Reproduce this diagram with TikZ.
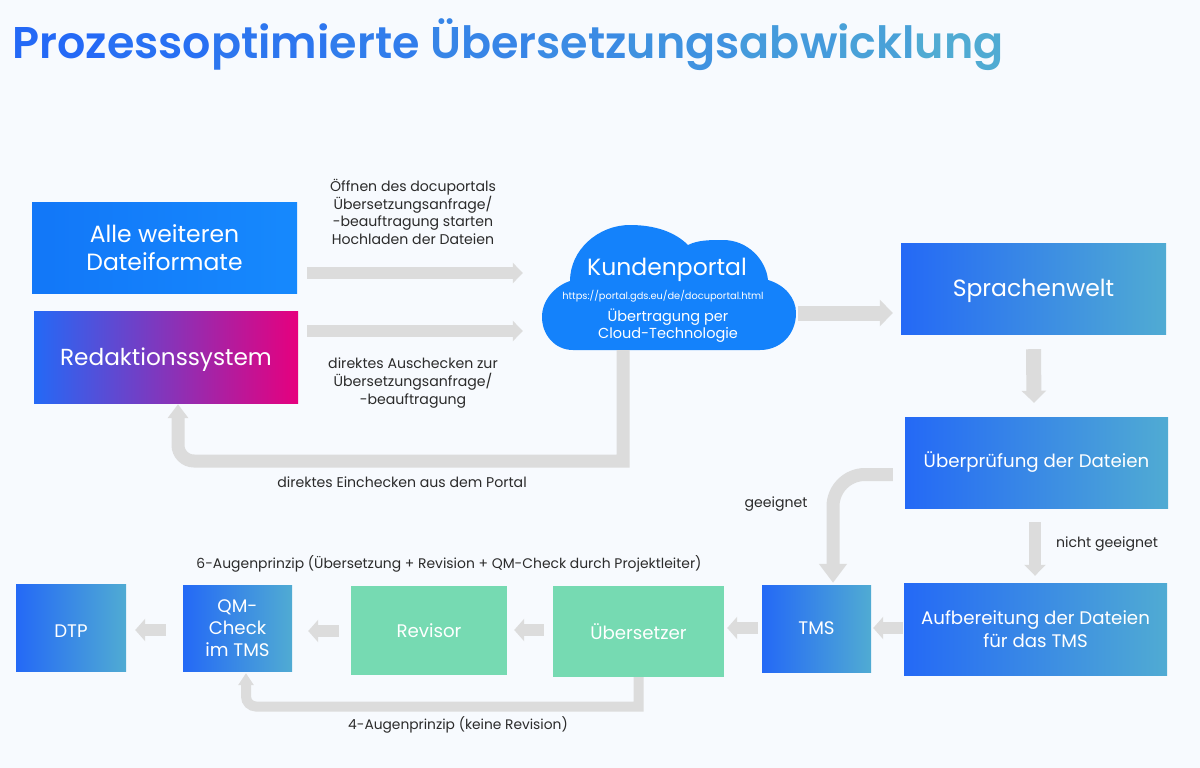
\documentclass[tikz,border=0pt]{standalone}
\usepackage{fontspec}
\setmainfont[BoldFont={Poppins SemiBold}]{Poppins}
\usetikzlibrary{arrows.meta}
\definecolor{pagebg}{HTML}{F7FAFE}
\definecolor{blueA}{HTML}{2469F6}
\definecolor{blueB}{HTML}{50ABD3}
\definecolor{skyA}{HTML}{1277F8}
\definecolor{skyB}{HTML}{1689FD}
\definecolor{magentaB}{HTML}{E6007E}
\definecolor{mint}{HTML}{76DAB2}
\definecolor{flowgray}{HTML}{DCDCDC}
\definecolor{labelink}{HTML}{2B2B2B}
\newcommand{\titlepart}[2]{\textcolor{blueB!#1!blueA}{#2}}
\newcommand{\fs}[1]{\fontsize{#1}{#1}\selectfont}
\tikzset{
  gradbox/.style={left color=blueA, right color=blueB, text=white, inner sep=0pt, align=center},
  mintbox/.style={fill=mint, text=white, inner sep=0pt, align=center},
  oneline/.style 2 args={text height=#1pt, text depth=#2pt},
  flowlabel/.style={text=labelink, align=center, inner sep=0pt, font=\fs{14.1}\linespread{1.25}\selectfont},
  flowarrow/.style n args={3}{draw=flowgray, line width=#1pt, -{Triangle[length=#2pt,width=#3pt,fill=flowgray]}}
}

\begin{document}
\begin{tikzpicture}[x=1pt, y=-1pt]
    \fill[pagebg] (0,0) rectangle (1200,768);
    \useasboundingbox (0,0) rectangle (1200,768);
    \node[inner sep=0pt, font=\fs{44.4}\bfseries] (heading) at (508,45)
      {\titlepart{0}{Proz}\titlepart{10}{esso}\titlepart{20}{ptimi}\titlepart{30}{erte }\titlepart{42}{Über}\titlepart{52}{setz}\titlepart{62}{ungs}\titlepart{75}{abw}\titlepart{85}{ickl}\titlepart{100}{ung}};
    % top left sources
    \node[left color=skyA, right color=skyB, text=white, inner sep=0pt, align=center, minimum width=265pt, minimum height=91pt, font=\fs{23.5}] (alle) at (164.5,247.5) {Alle weiteren\\[4pt]Dateiformate};
    \node[gradbox, oneline={21}{5}, right color=magentaB, minimum width=264pt, minimum height=92pt, font=\fs{23.2}] (redaktion) at (166,357) {Redaktionssystem};
    % cloud
    \fill[skyB!60!skyA] (573,350) .. controls (555,350) and (542,335) .. (542,317)
      .. controls (542,300) and (555,286) .. (570,281)
      .. controls (570,250) and (598,225) .. (630,225)
      .. controls (655,225) and (675,232) .. (688,245)
      .. controls (698,240) and (710,240) .. (723,240)
      .. controls (748,240) and (766,260) .. (768,280)
      .. controls (785,285) and (796,298) .. (796,313)
      .. controls (796,335) and (780,350) .. (760,350) -- cycle;
    \node[minimum width=254pt, minimum height=125pt, inner sep=0pt] (portal) at (669,287.5) {};
    \node[text=white, inner sep=0pt, font=\fs{23.5}] (kunden) at (667,270) {Kundenportal};
    \node[text=white, inner sep=0pt, font=\fs{9.8}] (url) at (663,296) {https://portal.gds.eu/de/docuportal.html};
    \node[text=white, inner sep=0pt, align=center, font=\fs{14.5}\linespread{1.15}\selectfont] (cloudtech) at (668,325.5) {Übertragung per\\Cloud-Technologie};
    % right column
    \node[gradbox, oneline={21}{5}, minimum width=265pt, minimum height=91pt, font=\fs{23.5}] (sprachen) at (1033.5,288.5) {Sprachenwelt};
    \node[gradbox, minimum width=263pt, minimum height=91pt, font=\fs{18.2}] (pruefung) at (1036.5,462.5) {Überprüfung der Dateien};
    \node[gradbox, minimum width=263pt, minimum height=92pt, font=\fs{18.2}] (aufbereitung) at (1035.5,629) {Aufbereitung der Dateien\\[3pt]für das TMS};
    % bottom row
    \node[gradbox, minimum width=109pt, minimum height=87pt, font=\fs{18.2}] (tms) at (816.5,628.5) {TMS};
    \node[mintbox, minimum width=171pt, minimum height=91pt, font=\fs{18.2}] (uebersetzer) at (638.5,631.5) {Übersetzer};
    \node[mintbox, minimum width=156pt, minimum height=89pt, font=\fs{18.2}] (revisor) at (429,630.5) {Revisor};
    \node[gradbox, minimum width=109pt, minimum height=86pt, font=\fs{18.2}] (qmcheck) at (237.5,628) {QM-\\[4pt]Check\\[4pt]im TMS};
    \node[gradbox, oneline={20}{0}, minimum width=110pt, minimum height=87pt, font=\fs{18.2}] (dtp) at (71,627.5) {DTP};
    % labels
    \node[flowlabel] (oeffnen) at (413,212) {Öffnen des docuportals\\Übersetzungsanfrage/\\-beauftragung starten\\Hochladen der Dateien};
    \node[flowlabel] (auschecken) at (413,383) {direktes Auschecken zur\\Übersetzungsanfrage/\\-beauftragung};
    \node[flowlabel] (einchecken) at (402,482) {direktes Einchecken aus dem Portal};
    \node[flowlabel] (geeignet) at (776,504) {geeignet};
    \node[flowlabel] (nichtgeeignet) at (1107,544) {nicht geeignet};
    \node[flowlabel, font=\fs{13.9}] (sechsaugen) at (449,564) {6-Augenprinzip (Übersetzung + Revision + QM-Check durch Projektleiter)};
    \node[flowlabel, font=\fs{13.8}] (vieraugen) at (458,725) {4-Augenprinzip (keine Revision)};
    % bend points of the long arrows
    \coordinate (checkindrop) at (623,461);
    \coordinate (checkinbend) at (178,461);
    \coordinate (tmsbend) at (833,474.5);
    \coordinate (fourdrop) at (638.5,706.5);
    \coordinate (fourbend) at (246,706.5);
    % arrows
    \draw[flowarrow={12}{10}{20}] ([xshift=10pt,yshift=-25.5pt]alle.east) -- ([xshift=-19pt,yshift=14.5pt]portal.west);
    \draw[flowarrow={12}{10}{20}] ([xshift=9pt,yshift=26pt]redaktion.east) -- ([xshift=-19pt,yshift=-43.5pt]portal.west);
    \draw[flowarrow={15}{13}{26}] ([xshift=2pt,yshift=-25.5pt]portal.east) -- ([xshift=-8pt,yshift=-24.5pt]sprachen.west);
    \draw[flowarrow={15}{12}{24}] ([yshift=-15pt]sprachen.south) -- ([xshift=-2.5pt,yshift=14pt]pruefung.north);
    \draw[flowarrow={13}{14}{20}] ([xshift=-46pt]portal.south) -- (checkindrop) [rounded corners=16pt] -- (checkinbend) -- ([xshift=12pt,yshift=-1pt]redaktion.south);
    \draw[flowarrow={13}{19}{27}, rounded corners=32pt] ([xshift=-12pt,yshift=-12pt]pruefung.west) -- (tmsbend) -- ([xshift=16.5pt,yshift=2pt]tms.north);
    \draw[flowarrow={12}{11}{21}] ([xshift=-1.5pt,yshift=-14pt]pruefung.south) -- ([xshift=-.5pt,yshift=7pt]aufbereitung.north);
    \draw[flowarrow={12}{10}{22}] ([xshift=-1pt,yshift=1pt]aufbereitung.west) -- ([xshift=2pt,yshift=.5pt]tms.east);
    \draw[flowarrow={12}{10}{22}] ([xshift=-4pt,yshift=.5pt]tms.west) -- ([xshift=3pt,yshift=3.5pt]uebersetzer.east);
    \draw[flowarrow={12}{10}{22}] ([xshift=-9pt,yshift=1.5pt]uebersetzer.west) -- ([xshift=7pt,yshift=.5pt]revisor.east);
    \draw[flowarrow={12}{10}{22}] ([xshift=-12pt,yshift=-.5pt]revisor.west) -- ([xshift=16pt,yshift=-3pt]qmcheck.east);
    \draw[flowarrow={12}{10}{22}] ([xshift=-17pt,yshift=-2pt]qmcheck.west) -- ([xshift=9pt,yshift=-2.5pt]dtp.east);
    \draw[flowarrow={10}{12}{15}] (uebersetzer.south) -- (fourdrop) [rounded corners=10pt] -- (fourbend) -- ([xshift=8.5pt,yshift=-2pt]qmcheck.south);
  \end{tikzpicture}
\end{document}
